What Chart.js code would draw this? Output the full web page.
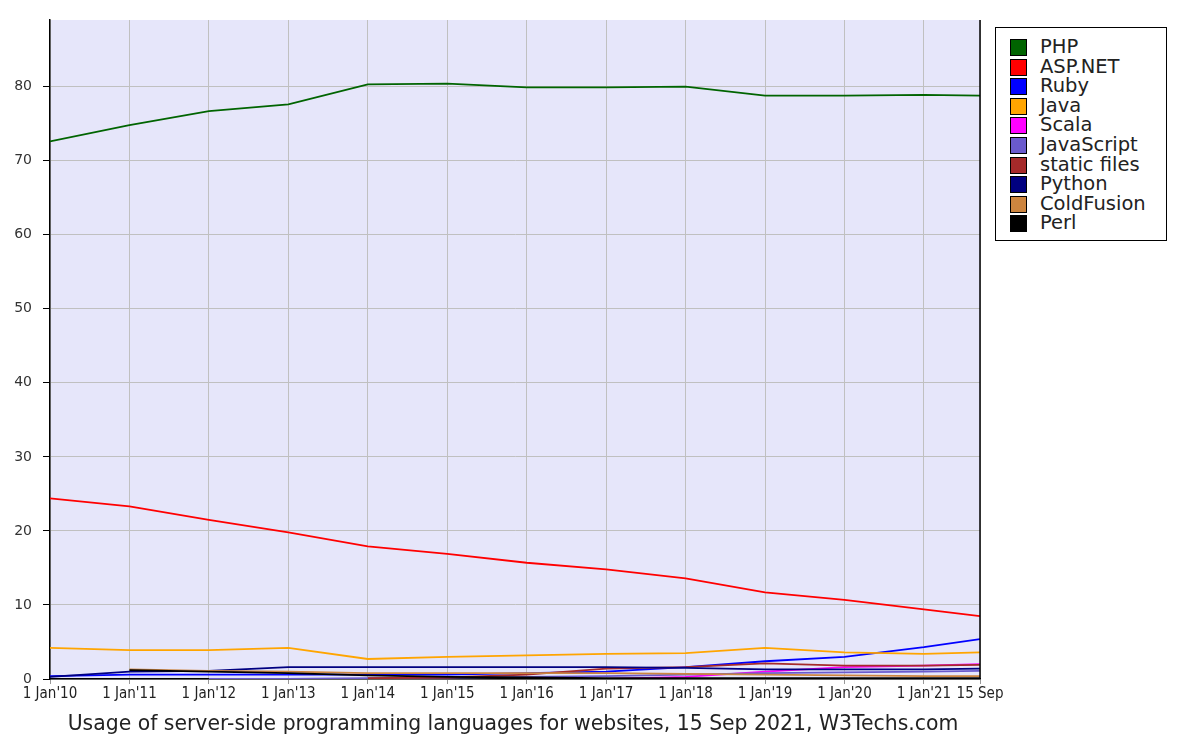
<!DOCTYPE html>
<html>
<head>
<meta charset="utf-8">
<script src="https://cdn.jsdelivr.net/npm/chart.js@4/dist/chart.umd.min.js"></script>
<style>
  html, body { margin: 0; padding: 0; background: #ffffff; }
  #wrap { position: relative; width: 1188px; height: 753px; }
  #c { position: absolute; left: 0; top: 0; }
  #legend {
    position: absolute; left: 995px; top: 27px; width: 172px; height: 214px;
    border: 1px solid #000; background: #fff; box-sizing: border-box;
    font-family: "DejaVu Sans", sans-serif; font-size: 19.5px; color: #222;
    padding-top: 10px;
  }
  .li { position: relative; height: 19.6px; line-height: 19.6px; }
  .sw { position: absolute; left: 14px; top: 1px; width: 15px; height: 15px; border: 1px solid #000; box-sizing: content-box; }
  .lt { position: absolute; left: 44px; top: -1px; white-space: nowrap; }
  #title {
    position: absolute; left: 0; width: 1026px; top: 711px; text-align: center;
    font-family: "DejaVu Sans", sans-serif; font-size: 20.4px; color: #222;
  }
</style>
</head>
<body>
<div id="wrap">
  <canvas id="c" width="1188" height="753"></canvas>
  <div id="legend"></div>
  <div id="title">Usage of server-side programming languages for websites, 15 Sep 2021, W3Techs.com</div>
</div>
<script>
// ---- data ----
const xValues = [2010, 2011, 2012, 2013, 2014, 2015, 2016, 2017, 2018, 2019, 2020, 2021, 2021.706];
const xTickLabels = ["1 Jan'10", "1 Jan'11", "1 Jan'12", "1 Jan'13", "1 Jan'14", "1 Jan'15", "1 Jan'16", "1 Jan'17", "1 Jan'18", "1 Jan'19", "1 Jan'20", "1 Jan'21", "15 Sep"];
const yTicks = [0, 10, 20, 30, 40, 50, 60, 70, 80];

const seriesNames = ["PHP", "ASP.NET", "Ruby", "Java", "Scala", "JavaScript", "static files", "Python", "ColdFusion", "Perl"];
const seriesColors = ["#006400", "#ff0000", "#0000ff", "#ffa500", "#ff00ff", "#6a5acd", "#a52a2a", "#000080", "#cd853f", "#000000"];

const php        = [72.6, 74.8, 76.7, 77.6, 80.3, 80.4, 79.9, 79.9, 80.0, 78.8, 78.8, 78.9, 78.8];
const aspnet     = [24.4, 23.3, 21.5, 19.8, 17.9, 16.9, 15.7, 14.8, 13.6, 11.7, 10.7, 9.4, 8.5];
const ruby       = [0.4, 0.6, 0.6, 0.6, 0.6, 0.6, 0.8, 1.0, 1.6, 2.4, 3.0, 4.3, 5.4];
const java       = [4.2, 3.9, 3.9, 4.2, 2.7, 3.0, 3.2, 3.4, 3.5, 4.2, 3.6, 3.4, 3.6];
const scala      = [null, null, null, null, null, null, null, 0.0, 0.3, 1.0, 1.6, 1.8, 2.0];
const javascript = [null, null, 0.0, 0.0, 0.1, 0.2, 0.3, 0.4, 0.6, 0.8, 0.9, 1.0, 1.1];
const staticFiles= [null, null, null, null, 0.1, 0.2, 0.6, 1.4, 1.6, 2.1, 1.8, 1.8, 1.9];
const python     = [0.3, 1.0, 1.1, 1.6, 1.6, 1.6, 1.6, 1.6, 1.5, 1.3, 1.3, 1.3, 1.4];
const coldfusion = [null, 1.3, 1.1, 1.0, 0.8, 0.8, 0.8, 0.8, 0.7, 0.6, 0.5, 0.4, 0.4];
const perl       = [null, 1.2, 1.0, 0.8, 0.5, 0.3, 0.2, 0.1, 0.1, 0.1, 0.1, 0.1, 0.1];

const seriesValues = [php, aspnet, ruby, java, scala, javascript, staticFiles, python, coldfusion, perl];

// ---- legend (HTML) ----
const legendEl = document.getElementById('legend');
seriesNames.forEach((n, i) => {
  const d = document.createElement('div');
  d.className = 'li';
  d.innerHTML = '<span class="sw" style="background:' + seriesColors[i] + '"></span><span class="lt"></span>';
  d.querySelector('.lt').textContent = n;
  legendEl.appendChild(d);
});

// ---- chart ----
const bgPlugin = {
  id: 'bg',
  beforeDraw(chart) {
    const a = chart.chartArea, ctx = chart.ctx;
    ctx.save();
    ctx.fillStyle = '#e6e6fa';
    ctx.fillRect(a.left, a.top, a.right - a.left, a.bottom - a.top);
    ctx.restore();
  },
  afterDraw(chart) {
    const a = chart.chartArea, ctx = chart.ctx;
    ctx.save();
    ctx.strokeStyle = '#000';
    ctx.lineWidth = 1.5;
    ctx.beginPath();
    ctx.moveTo(a.right, a.top);
    ctx.lineTo(a.right, a.bottom);
    ctx.stroke();
    ctx.restore();
  }
};

const datasets = seriesNames.map((n, i) => ({
  label: n,
  data: xValues.map((x, j) => ({ x: x, y: seriesValues[i][j] })),
  borderColor: seriesColors[i],
  backgroundColor: seriesColors[i],
  borderWidth: 1.8,
  pointRadius: 0,
  tension: 0,
  spanGaps: false
}));

new Chart(document.getElementById('c'), {
  type: 'line',
  data: { datasets: datasets.slice().reverse() },
  plugins: [bgPlugin],
  options: {
    responsive: false,
    animation: false,
    layout: { padding: { left: 0, right: 208, top: 20, bottom: 0 } },
    plugins: { legend: { display: false }, tooltip: { enabled: false }, title: { display: false } },
    scales: {
      x: {
        type: 'linear',
        min: xValues[0],
        max: xValues[xValues.length - 1],
        afterBuildTicks: (s) => { s.ticks = xValues.map(v => ({ value: v })); },
        afterFit: (s) => { s.height = 74; },
        ticks: {
          autoSkip: false, maxRotation: 0, minRotation: 0, padding: 1,
          color: '#222',
          font: { family: "'DejaVu Sans Condensed', 'Liberation Sans Narrow', 'DejaVu Sans', sans-serif", size: 15 },
          callback: (v, i) => xTickLabels[i]
        },
        grid: { color: '#c0c0c0', lineWidth: 1, tickLength: 5, tickColor: '#999', drawOnChartArea: true },
        border: { display: true, color: '#000', width: 1.5 }
      },
      y: {
        type: 'linear',
        min: 0,
        max: 89,
        afterBuildTicks: (s) => { s.ticks = yTicks.map(v => ({ value: v })); },
        afterFit: (s) => { s.width = 50; },
        ticks: {
          padding: 11, color: '#333',
          font: { family: "'DejaVu Sans', sans-serif", size: 14 }
        },
        grid: { color: '#c0c0c0', lineWidth: 1, tickLength: 7, tickColor: '#000' },
        border: { display: true, color: '#000', width: 1.5 }
      }
    }
  }
});
</script>
</body>
</html>
